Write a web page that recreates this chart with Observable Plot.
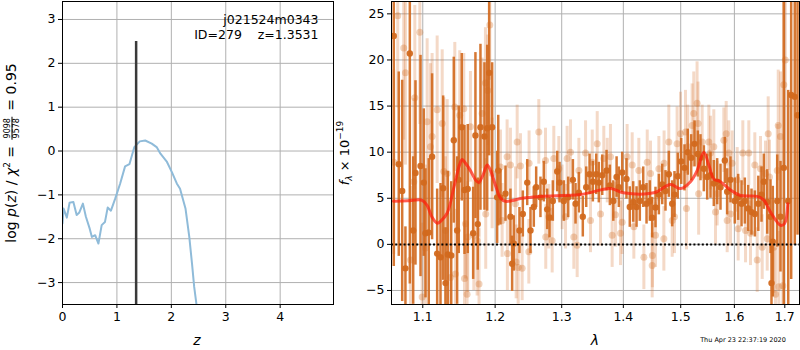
<!DOCTYPE html>
<html><head><meta charset="utf-8">
<script src="https://cdn.jsdelivr.net/npm/d3@7"></script>
<script src="https://cdn.jsdelivr.net/npm/@observablehq/plot@0.6"></script>
<style>
body{margin:0;background:#fff;font-family:"DejaVu Sans",sans-serif;}
#fig{position:relative;width:800px;height:350px;overflow:hidden;background:#fff;}
#fig svg{position:absolute;left:0;top:0;}
.lab{position:absolute;white-space:nowrap;color:#000;font-family:"DejaVu Sans",sans-serif;line-height:1;}
.rot{transform:translate(-50%,-50%) rotate(-90deg);}
.ctr{transform:translate(-50%,-50%);}
.frac{display:inline-flex;flex-direction:column;vertical-align:middle;font-size:8px;line-height:1;text-align:center;margin:0 2px;}
.frac span:first-child{border-bottom:1px solid #000;padding:0 1px;}
sup,sub{font-size:9px;line-height:0;}
</style></head><body><div id="fig"></div>
<script>
// ---------- left panel: log p(z) ----------
const zVals = [0, 0.02, 0.08, 0.13, 0.2, 0.26, 0.31, 0.375, 0.43, 0.5, 0.54, 0.6, 0.66, 0.72, 0.78, 0.83, 0.89, 0.97, 1.06, 1.15, 1.23, 1.32, 1.42, 1.52, 1.64, 1.73, 1.80, 1.92, 2.01, 2.10, 2.16, 2.26, 2.33, 2.38, 2.42, 2.46, 2.50];
const logPz = [-1.65, -1.31, -1.52, -1.18, -1.16, -1.46, -1.40, -1.20, -1.50, -1.77, -1.96, -1.92, -2.11, -1.69, -1.62, -1.29, -1.36, -1.08, -0.74, -0.35, -0.30, 0.09, 0.22, 0.24, 0.17, 0.09, -0.06, -0.25, -0.48, -0.74, -0.86, -1.31, -1.96, -2.57, -3.10, -3.48, -3.9];
const zBest = 1.3531;
const zTicks = [0, 1, 2, 3, 4];
const pTicks = [-3, -2, -1, 0, 1, 2, 3];
const titleLines = ["j021524m0343", "ID=279\u00a0\u00a0\u00a0\u00a0z=1.3531"];

// ---------- right panel: spectrum ----------
const darkLam = [1.0623,1.0687,1.0731,1.0773,1.0830,1.0874,1.0904,1.0970,1.1013,1.1036,1.1079,1.1124,1.1192,1.1237,1.1273,1.1305,1.1336,1.1383,1.1418,1.1464,1.1486,1.1528,1.1566,1.1611,1.1687,1.1719,1.1752,1.1790,1.1847,1.1886,1.1914,1.1957,1.2029,1.2045,
 1.2077,1.2150,1.2223,1.2248,1.2272,1.2356,1.2406,1.2472,1.2521,1.2571,1.2607,1.2672,1.2723,1.2775,1.2811,1.2862,1.2930,1.2966,1.3033,1.3102,1.3176,1.3218,1.3271,1.3334,1.3389,1.3443,1.3496,1.3551,1.3593,1.3649,
 1.3720,1.3775,1.3832,1.3887,1.3924,1.3981,1.4053,1.4109,1.4167,1.4224,1.4280,1.4339,1.4396,1.4453,1.4494,1.4552,1.4611,1.4670,1.4728,1.4787,1.4847,1.4888,1.4947,1.5009,1.5068,1.5128,1.5190,1.5251,1.5312,
 1.5361,1.5423,1.5485,1.5547,1.5609,1.5672,1.5735,1.5817,1.5862,1.5925,1.6008,1.6073,1.6138,1.6202,1.6269,1.6333,1.6399,1.6467,1.6530,1.6576,1.6644,1.6710,1.6730,1.6756,1.6846,1.6912,1.6979,1.7070,1.7131,1.7205,1.7262];
const darkFlux = [22.6,8.7,5.8,-2.6,20.7,1.5,7.75,8.5,6.7,1.2,1.3,9.5,-1.0,-1.4,6.1,-4.2,-1.1,-1.2,11.3,1.5,7.0,12.7,5.9,6.0,1.2,11.8,2.2,12.7,11.7,12.6,18.6,12.7,5.1,8.0,
 5.1,5.5,3.0,-2.1,0.1,1.5,3.3,6.7,1.5,4.05,6.2,5.1,6.8,3.8,2.9,4.7,7.9,6.7,4.7,5.1,7.0,4.4,5.6,3.0,6.2,7.6,6.8,7.6,6.7,7.5,
 8.0,6.4,4.7,7.3,6.2,7.8,7.1,4.05,4.6,4.05,4.7,6.2,4.4,4.7,2.9,4.0,5.4,6.5,5.8,7.6,4.4,5.4,7.4,9.0,8.3,10.0,9.4,10.9,9.8,
 9.4,8.2,7.3,7.5,6.6,6.8,6.2,9.1,5.7,7.0,4.7,5.1,4.4,4.7,3.9,3.5,3.3,4.4,5.4,6.8,4.6,3.0,-4.2,0.3,4.7,3.0,8.3,4.7,16.2,16.0,14.0];
const darkErr = [25,10,12,4.5,25,8,10,12,8,7,8,9,7,8,10,6,9,8,9,8,8,8,7,7,5,9,5,9,8,9,9,7,5,6,
 3,3,3,3,3,2.5,2.5,2.5,2.5,2.2,2.2,2.2,2.2,2.2,2.2,2.2,2.2,2.2,2.2,2.2,2.2,2.2,2.2,2.2,2.2,2.2,2.2,2.2,2.2,2.2,
 2.2,2.2,2.2,2.2,2.2,2.2,2.2,2.2,2.2,2.2,2.2,2.2,2.2,2.2,2.2,2.2,2.2,2.2,2.2,2.5,2.5,2.5,2.5,2.5,2.5,2.5,2.5,2.5,2.5,
 2.5,2.5,2.5,2.5,2.5,2.5,2.5,2.5,2.5,2.5,2.5,2.5,2.5,2.5,2.5,2.5,2.5,3,3,3,3.5,4,4,6,5,6,20,12,20,16,13];

const lightLam = [1.0623,1.0674,1.0751,1.0773,1.0839,1.0882,1.0895,1.0961,1.0992,1.1036,1.1058,1.1102,1.1124,1.1192,1.1260,1.1282,1.1305,1.1328,1.1373,1.1432,1.1441,1.1500,1.1556,1.1566,1.1580,1.1602,1.1611,1.1649,1.1696,1.1743,1.1766,1.1770,1.1814,1.1861,1.1865,1.1894,1.1923,1.1957,
 1.2077,1.2101,1.2174,1.2178,1.2223,1.2297,1.2307,1.2322,1.2337,1.2371,1.2396,1.2496,1.2500,1.2647,1.2749,1.2753,1.2800,1.2852,1.2877,1.2955,1.3007,1.3060,1.3085,1.3138,1.3191,1.3244,1.3271,1.3378,1.3458,1.3486,1.3567,1.3621,
 1.3675,1.3732,1.3785,1.3813,1.3868,1.3952,1.3980,1.4064,1.4150,1.4178,1.4263,1.4350,1.4408,1.4465,1.4494,1.4498,1.4552,1.4611,1.4699,1.4703,1.4787,1.4847,1.4888,1.4935,1.4996,1.5086,1.5104,1.5128,1.5207,1.5237,1.5298,1.5316,1.5327,
 1.5392,1.5516,1.5547,1.5609,1.5641,1.5672,1.5798,1.5843,1.5862,1.5893,1.5925,1.5957,1.6054,1.6073,1.6163,1.6216,1.6280,1.6313,1.6398,1.6445,1.6510,1.6544,1.6610,1.6644,1.6664,1.6690,1.6777,1.6811,1.6846,1.6866,1.6878,1.6912,1.6959,1.6979,1.7010];
const lightFlux = [8.9,24.8,21.3,18.6,-1.7,6.8,15.9,23.0,-5.7,-0.4,13.3,10.6,11.7,14.6,13.1,7.9,1.5,7.7,-3.6,14.9,-3.2,14.0,14.7,-3.7,2.25,-5.4,0.8,12.75,1.0,0.4,6.8,-4.3,14.2,17.5,3.3,16.7,23.8,7.7,
 8.4,2.6,9.5,-1.0,8.6,4.4,-1.9,11.1,-2.5,8.5,-2.6,-0.8,8.8,12.2,9.1,0.8,3.0,0.4,9.3,8.2,5.1,3.0,9.3,10.0,0.8,-0.1,8.0,9.9,2.6,8.9,10.9,3.3,
 9.3,8.0,9.5,1.0,3.2,1.2,2.4,9.5,8.6,1.9,8.0,-1.4,8.9,7.7,-2.3,-1.2,1.0,8.2,0.6,8.8,11.1,2.6,3.0,10.9,12.0,12.2,3.9,10.6,12.9,14.2,15.3,13.1,5.5,
 11.1,11.1,9.9,10.6,3.5,5.5,11.3,12.0,2.6,9.9,3.3,8.8,7.0,1.7,9.9,1.5,9.9,1.2,8.6,-1.7,8.2,-0.3,7.7,0.6,12.0,7.3,-0.3,-5.4,8.0,12.9,-4.6,11.7,-4.5,17.3,20.0];
const lightErr = [10,10,10,10,8,9,10,10,8,9,9,9,9,8,8,8,8,8,7,7,7,7,6,6,6,6,6,6,6,6,6,6,6,6,6,6,6,6,
 4,4,4,4,4,4,4,4,4,3.5,3.5,3.5,3.5,3.5,3.5,3.5,3.5,3.5,3.5,3.5,3.5,3.5,3.5,3.5,3.5,3.5,3.5,3.5,3.5,3.5,3.5,3.5,
 3.5,3.5,3.5,3.5,3.5,3.5,3.5,3.5,3.5,3.5,3.5,3.5,3.5,3.5,3.5,3.5,3.5,3.5,3.5,3.5,4,4,4,4,4.5,4.5,4.5,4.5,4.5,4.5,4.5,4.5,4.5,
 4,4,4,4,3.5,3.5,3.5,3.5,3.5,3.5,3.5,3.5,3.5,3.5,3.5,3.5,3.5,3.5,3.5,3.5,3.5,3.5,3.5,3.5,4,4,5,5,5,6,6,7,7,9,12];

const modelLam = [1.0620,1.0800,1.0992,1.1060,1.1120,1.1192,1.1250,1.1328,1.1420,1.1500,1.1534,1.1580,1.1649,1.1720,1.1766,1.1830,1.1886,1.1940,1.2005,1.2080,1.2150,1.2250,1.2371,1.2672,1.3297,1.3785,1.3998,1.4522,1.4817,1.4996,1.5177,1.5299,1.5422,1.5516,1.5609,1.5735,1.5925,1.6118,1.6445,1.6576,1.6710,1.6912,1.6994,1.7061];
const modelFlux = [4.67,4.72,4.78,4.2,3.0,2.3,2.6,3.4,6.2,8.7,9.2,8.8,8.0,7.0,6.7,7.6,8.6,7.9,6.4,5.0,4.67,4.75,4.97,5.2,5.4,6.05,5.6,5.6,6.5,6.05,6.8,8.0,10.0,8.6,7.1,6.8,5.9,5.3,5.2,4.8,3.5,2.07,2.25,4.4];

const lamTicks = [1.1, 1.2, 1.3, 1.4, 1.5, 1.6, 1.7];
const fTicks = [-5, 0, 5, 10, 15, 20, 25];

const orange = "#d2691e";
const gridCol = "#b0b0b0";
const intFmt = d3.format("d");

const pz = zVals.map((z, i) => ({z, v: logPz[i]}));
const dark = darkLam.map((l, i) => ({lam: l, f: darkFlux[i], e: darkErr[i]}));
const light = lightLam.map((l, i) => ({lam: l, f: lightFlux[i], e: lightErr[i]}));
const model = modelLam.map((l, i) => ({lam: l, f: modelFlux[i]}));

const baseStyle = {background: "transparent", fontFamily: "DejaVu Sans, sans-serif", fontSize: "12.5px", color: "black", overflow: "visible"};

const p1 = Plot.plot({
  width: 800, height: 350,
  marginLeft: 62, marginRight: 467, marginTop: 1, marginBottom: 46,
  style: baseStyle,
  x: {domain: [0, 4.98], ticks: zTicks, tickSize: 4, tickPadding: 4, label: null, tickFormat: intFmt},
  y: {domain: [-3.5, 3.41], ticks: pTicks, tickSize: 4, tickPadding: 3, label: null, tickFormat: intFmt},
  marks: [
    Plot.gridX(zTicks, {stroke: gridCol, strokeOpacity: 1, strokeWidth: 1}),
    Plot.gridY(pTicks, {stroke: gridCol, strokeOpacity: 1, strokeWidth: 1}),
    Plot.line(pz, {x: "z", y: "v", stroke: "#8fbbd9", strokeWidth: 2, clip: true}),
    Plot.ruleX([zBest], {y1: -3.5, y2: 2.5, stroke: "#3a3a3a", strokeWidth: 2.5}),
    Plot.frame({stroke: "black", strokeWidth: 1}),
    Plot.text([titleLines[0]], {frameAnchor: "top-right", dx: -15, dy: 14, lineAnchor: "top", fontSize: 12.5, fill: "black"}),
    Plot.text([titleLines[1]], {frameAnchor: "top-right", dx: -15, dy: 28.5, lineAnchor: "top", fontSize: 12.5, fill: "black"})
  ]
});

const p2 = Plot.plot({
  width: 800, height: 350,
  marginLeft: 391, marginRight: 1, marginTop: 1, marginBottom: 46,
  style: baseStyle,
  x: {type: "log", domain: [1.0594, 1.7303], ticks: lamTicks, tickSize: 4, tickPadding: 4, label: null, tickFormat: d => d.toFixed(1)},
  y: {domain: [-6.52, 26.34], ticks: fTicks, tickSize: 4, tickPadding: 3, label: null, tickFormat: intFmt},
  marks: [
    Plot.gridX(lamTicks, {stroke: gridCol, strokeOpacity: 1, strokeWidth: 1}),
    Plot.gridY(fTicks, {stroke: gridCol, strokeOpacity: 1, strokeWidth: 1}),
    Plot.ruleX(light, {x: "lam", y1: d => d.f - d.e, y2: d => d.f + d.e, stroke: orange, strokeOpacity: 0.25, strokeWidth: 3, clip: true}),
    Plot.dot(light, {x: "lam", y: "f", r: 3.5, fill: orange, fillOpacity: 0.3, stroke: "none", clip: true}),
    Plot.ruleX(dark, {x: "lam", y1: d => d.f - d.e, y2: d => d.f + d.e, stroke: orange, strokeOpacity: 0.9, strokeWidth: 2.5, clip: true}),
    Plot.dot(dark, {x: "lam", y: "f", r: 3.2, fill: orange, fillOpacity: 0.95, stroke: "none", clip: true}),
    Plot.ruleY([0], {stroke: "black", strokeWidth: 2, strokeDasharray: "2,2.2"}),
    Plot.line(model, {x: "lam", y: "f", stroke: "#ff1a0a", strokeOpacity: 0.7, strokeWidth: 3, curve: "catmull-rom", clip: true}),
    Plot.frame({stroke: "black", strokeWidth: 1})
  ]
});

const fig = document.getElementById("fig");
fig.appendChild(p1);
fig.appendChild(p2);

function addLabel(html, x, y, cls, size, extra) {
  const d = document.createElement("div");
  d.className = "lab " + cls;
  d.style.left = x + "px";
  d.style.top = y + "px";
  d.style.fontSize = size + "px";
  if (extra) Object.assign(d.style, extra);
  d.innerHTML = html;
  fig.appendChild(d);
}
addLabel('log <i>p</i>(<i>z</i>) / <i>χ</i><sup>2</sup> = <span class="frac"><span>9098</span><span>9578</span></span> = 0.95', 12, 153, "rot", 14);
addLabel('<i>f</i><sub><i>λ</i></sub> × 10<sup>−19</sup>', 344, 153, "rot", 13);
addLabel('<i>z</i>', 197, 340, "ctr", 14);
addLabel('<i>λ</i>', 595, 340, "ctr", 14);
addLabel('Thu Apr 23 22:37:19 2020', 743, 340, "ctr", 6.5);
</script></body></html>
